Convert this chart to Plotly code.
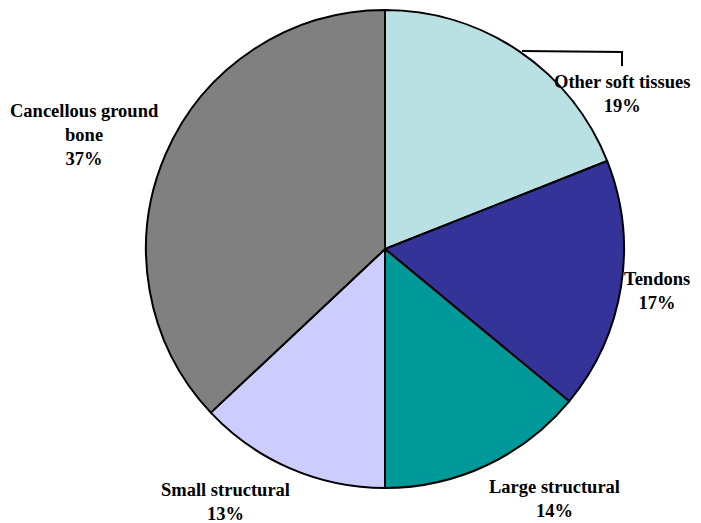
import plotly.graph_objects as go

# Tissue categories and their share of the total (%)
categories = ["Other soft tissues", "Tendons", "Large structural",
              "Small structural", "Cancellous ground bone"]
shares = [19, 17, 14, 13, 37]
label_lines = ["Other soft tissues", "Tendons", "Large structural",
               "Small structural", "Cancellous ground<br>bone"]

colors = ["#B9E0E3", "#333399", "#009999", "#CCCCFF", "#808080"]

W, H = 701, 523
cx, cy, r = 385, 249, 239  # pie centre and radius in pixels

fig = go.Figure(go.Pie(
    labels=categories,
    values=shares,
    sort=False,
    direction="clockwise",
    rotation=0,
    textinfo="none",
    hoverinfo="label+percent",
    marker=dict(colors=colors, line=dict(color="black", width=2)),
    domain=dict(x=[(cx - r) / W, (cx + r) / W],
                y=[(H - cy - r) / H, (H - cy + r) / H]),
    showlegend=False,
))

# label centres (pixels from top-left)
label_pos = [(622, 94), (657, 291), (554, 499), (225, 502), (84, 135)]
font = dict(family="Liberation Serif", size=18.5, color="black")
for text, share, (px, py) in zip(label_lines, shares, label_pos):
    fig.add_annotation(
        x=px / W, y=1 - py / H, xref="paper", yref="paper",
        text=f"<b>{text}<br>{share}%</b>",
        showarrow=False, xanchor="center", yanchor="middle",
        font=font, align="center",
    )

# leader line for the first label
fig.add_shape(type="path",
              path=f"M {522/W} {1-51/H} L {622/W} {1-52/H} L {622/W} {1-66/H}",
              xref="paper", yref="paper",
              line=dict(color="black", width=2))

fig.update_layout(
    width=W, height=H,
    margin=dict(l=0, r=0, t=0, b=0),
    paper_bgcolor="white", plot_bgcolor="white",
)

fig.write_html("out.html")
